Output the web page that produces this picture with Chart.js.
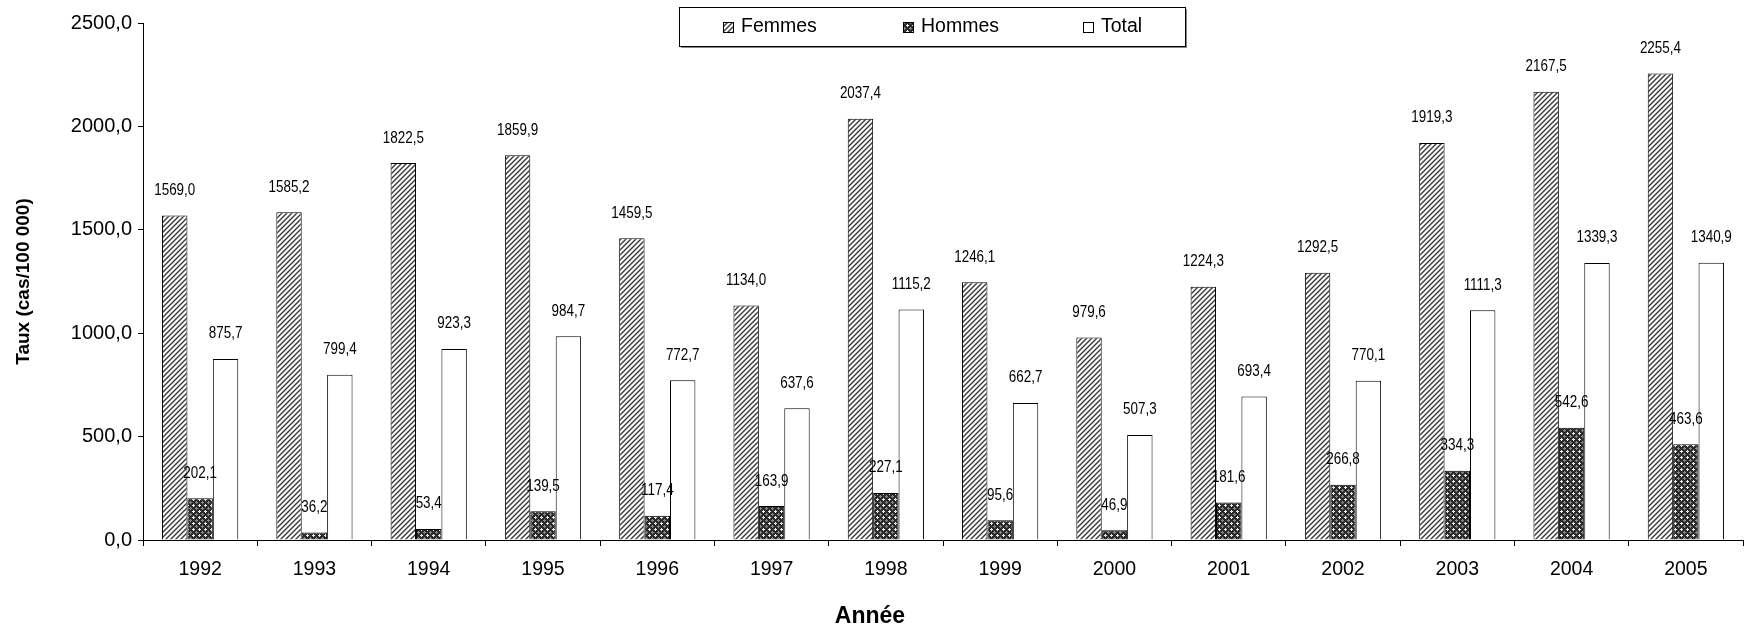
<!DOCTYPE html>
<html>
<head>
<meta charset="utf-8">
<script src="https://cdn.jsdelivr.net/npm/chart.js@4/dist/chart.umd.min.js"></script>
<style>
  html, body { margin: 0; padding: 0; background: #fff; }
  #wrap { width: 1749px; height: 629px; }
</style>
</head>
<body>
<div id="wrap"><canvas id="myChart" width="1749" height="629"></canvas></div>
<script>
const years = ['1992', '1993', '1994', '1995', '1996', '1997', '1998', '1999', '2000', '2001', '2002', '2003', '2004', '2005'];
const femmes = [1569.0, 1585.2, 1822.5, 1859.9, 1459.5, 1134.0, 2037.4, 1246.1, 979.6, 1224.3, 1292.5, 1919.3, 2167.5, 2255.4];
const hommes = [202.1, 36.2, 53.4, 139.5, 117.4, 163.9, 227.1, 95.6, 46.9, 181.6, 266.8, 334.3, 542.6, 463.6];
const total = [875.7, 799.4, 923.3, 984.7, 772.7, 637.6, 1115.2, 662.7, 507.3, 693.4, 770.1, 1111.3, 1339.3, 1340.9];
const seriesNames = ['Femmes', 'Hommes', 'Total'];

const fmt = v => v.toFixed(1).replace('.', ',');
const FONT = '"Liberation Sans", Arial, sans-serif';

// hatch patterns like the excel fills
function hatchPattern() {
    const c = document.createElement('canvas');
    c.width = 5; c.height = 5;
    const g = c.getContext('2d');
    g.fillStyle = '#fff';
    g.fillRect(0, 0, 5, 5);
    g.strokeStyle = '#3a3a3a';
    g.lineWidth = 1.4;
    for (let k = -1; k <= 1; k++) {
        g.beginPath();
        g.moveTo(k * 5 - 1, 6);
        g.lineTo(k * 5 + 6, -1);
        g.stroke();
    }
    return g.createPattern(c, 'repeat');
}

function crossPattern() {
    const c = document.createElement('canvas');
    c.width = 6; c.height = 6;
    const g = c.getContext('2d');
    g.fillStyle = '#2b2b2b';
    g.fillRect(0, 0, 6, 6);
    g.fillStyle = '#e8e8e8';
    g.fillRect(1, 0, 1, 3);
    g.fillRect(0, 1, 3, 1);
    g.fillStyle = '#888';
    g.fillRect(4, 3, 1, 3);
    g.fillRect(3, 4, 3, 1);
    return g.createPattern(c, 'repeat');
}

const fills = [hatchPattern(), crossPattern(), '#ffffff'];

// value labels in a narrow face (squeezed horizontally)
const valueLabels = {
    id: 'valueLabels',
    afterDatasetsDraw(chart) {
        const ctx = chart.ctx;
        ctx.save();
        ctx.font = '16px ' + FONT;
        ctx.fillStyle = '#000';
        ctx.textAlign = 'center';
        ctx.textBaseline = 'middle';
        chart.data.datasets.forEach((ds, i) => {
            chart.getDatasetMeta(i).data.forEach((bar, j) => {
                ctx.save();
                ctx.translate(bar.x, bar.y - 25);
                ctx.scale(0.84, 1);
                ctx.fillText(fmt(ds.data[j]), 0, 0);
                ctx.restore();
            });
        });
        ctx.restore();
    }
};

const boxLegend = {
    id: 'boxLegend',
    afterDraw(chart) {
        const ctx = chart.ctx;
        ctx.save();
        ctx.fillStyle = '#fff';
        ctx.fillRect(679, 7, 506, 39);
        ctx.fillStyle = '#888';
        ctx.fillRect(681, 46, 506, 2);
        ctx.fillRect(1185, 9, 2, 39);
        ctx.strokeStyle = '#000';
        ctx.lineWidth = 1;
        ctx.strokeRect(679.5, 7.5, 506, 39);
        const xs = [723, 903, 1083];
        ctx.font = '19.5px ' + FONT;
        ctx.textBaseline = 'middle';
        ctx.textAlign = 'left';
        seriesNames.forEach((name, i) => {
            ctx.fillStyle = fills[i];
            ctx.fillRect(xs[i], 22, 10, 10);
            ctx.strokeStyle = '#000';
            ctx.strokeRect(xs[i] + 0.5, 22.5, 10, 10);
            ctx.fillStyle = '#000';
            ctx.fillText(name, xs[i] + 18, 27);
        });
        // x axis title, centred on the whole picture like the original
        ctx.font = 'bold 23px ' + FONT;
        ctx.textAlign = 'center';
        ctx.fillText('Année', 870, 617);
        ctx.restore();
    }
};

const ctx = document.getElementById('myChart').getContext('2d');
const myChart = new Chart(ctx, {
    type: 'bar',
    data: {
        labels: years,
        datasets: [femmes, hommes, total].map((d, i) => ({
            label: seriesNames[i],
            data: d,
            backgroundColor: fills[i],
            borderColor: '#000',
            borderWidth: 1,
            categoryPercentage: 0.667,
            barPercentage: 1.0
        }))
    },
    options: {
        responsive: false,
        animation: false,
        layout: { padding: { top: 23, right: 6, left: 0, bottom: 0 } },
        plugins: {
            legend: { display: false },
            tooltip: { enabled: false }
        },
        scales: {
            x: {
                afterFit: s => { s.height = 89; },
                grid: { drawOnChartArea: false, tickLength: 6, color: '#000', offset: true },
                border: { color: '#000', width: 1 },
                ticks: { color: '#000', padding: 12, font: { family: FONT, size: 19.5 } }
            },
            y: {
                min: 0, max: 2500,
                afterFit: s => { s.width = 143; },
                grid: { drawOnChartArea: false, tickLength: 5, color: '#000' },
                border: { color: '#000', width: 1 },
                ticks: {
                    stepSize: 500, color: '#000', padding: 6,
                    font: { family: FONT, size: 20 },
                    callback: v => fmt(v)
                },
                title: {
                    display: true, text: 'Taux (cas/100 000)', color: '#000',
                    font: { family: FONT, size: 19, weight: 'bold' },
                    padding: { top: 12, bottom: 0 }
                }
            }
        }
    },
    plugins: [valueLabels, boxLegend]
});
</script>
</body>
</html>
